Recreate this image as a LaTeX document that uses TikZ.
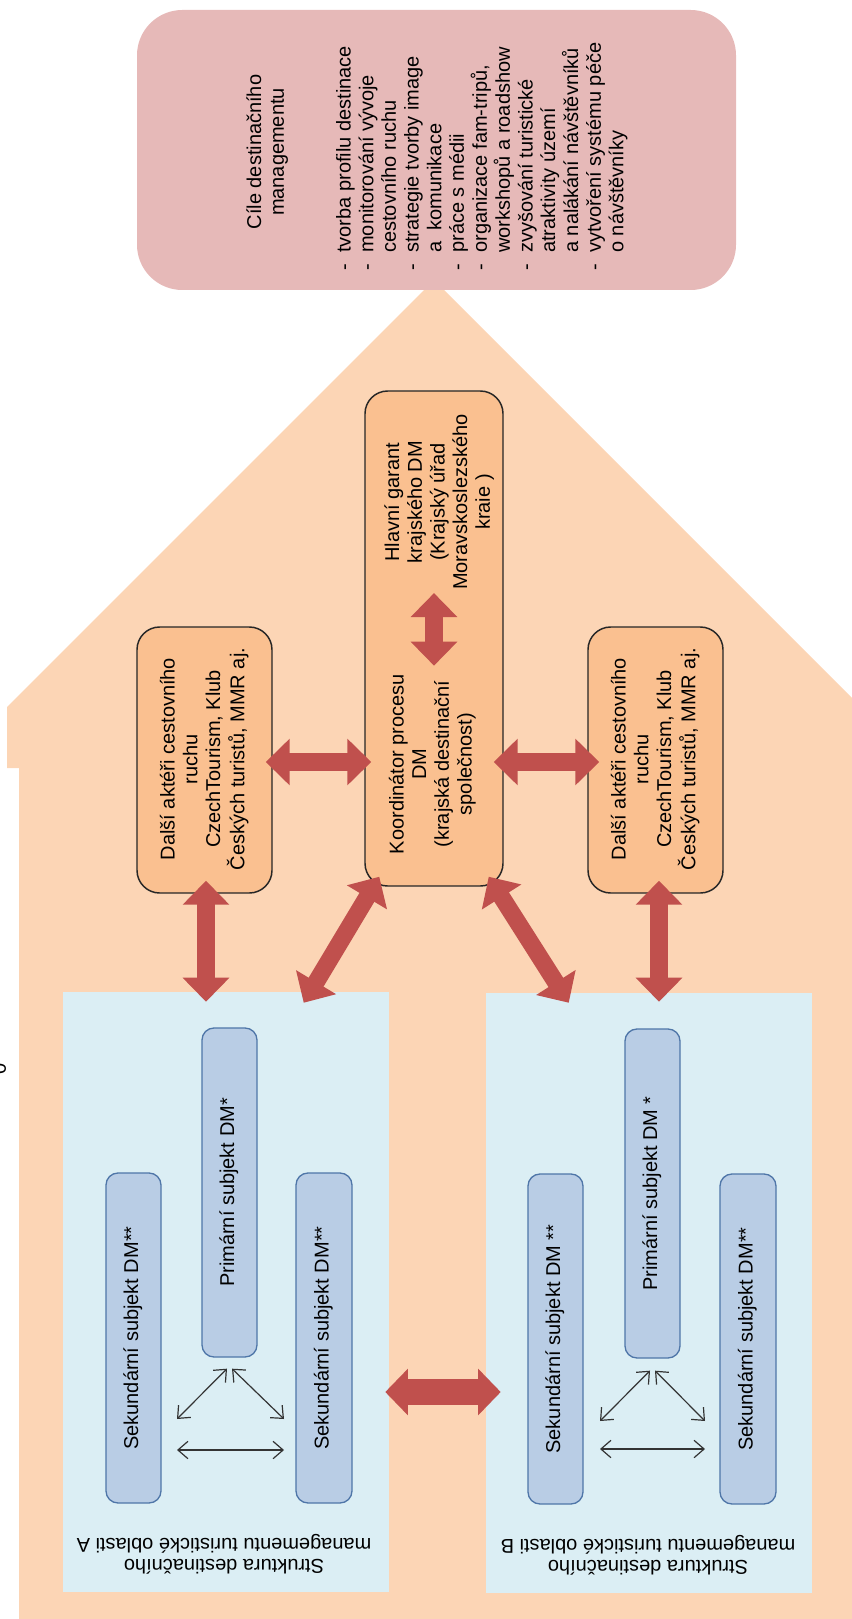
\documentclass[tikz,border=0pt]{standalone}
\usepackage{fontspec}
\usepackage{graphicx}
\setmainfont{Liberation Sans}
\usetikzlibrary{arrows.meta,fit,calc}
\definecolor{peach}{HTML}{FCD5B5}
\definecolor{boxorange}{HTML}{FAC090}
\definecolor{pinkbox}{HTML}{E6B9B8}
\definecolor{lightaqua}{HTML}{DBEEF4}
\definecolor{innerblue}{HTML}{B9CDE5}
\definecolor{innerborder}{HTML}{4F76A8}
\definecolor{arrowred}{HTML}{C0504D}
\newcommand{\dashitem}{\makebox[13.5pt][l]{-}}
\newcommand{\contitem}{\hspace*{13.5pt}}
\newcommand{\vtext}[1]{\rotatebox{90}{\begin{tabular}{@{}c@{}}#1\end{tabular}}}
\begin{document}
\begin{tikzpicture}[x=0.75pt,y=-0.75pt,
  every node/.style={font=\fontsize{15pt}{17pt}\selectfont, inner sep=0pt, text=black},
  orangebox/.style={draw=black!85, line width=1.1pt, fill=boxorange, rounded corners=17pt},
  aquabox/.style={fill=lightaqua},
  innerbox/.style={draw=innerborder, line width=1pt, fill=innerblue, rounded corners=9pt},
  fat/.style={draw=arrowred, line width=13pt, {Triangle[length=18pt,width=34pt]}-{Triangle[length=18pt,width=34pt]}},
  fatter/.style={draw=arrowred, line width=20pt, {Triangle[length=17pt,width=34pt]}-{Triangle[length=17pt,width=34pt]}},
  thin/.style={draw=black!80, line width=0.9pt, {Straight Barb[length=7.5pt,width=13pt]}-{Straight Barb[length=7.5pt,width=13pt]}}
]
\useasboundingbox (0,0) rectangle (852,1619);

% house-shaped background
\fill[peach] (434,280) -- (852,698) -- (852,1619) -- (19,1619) -- (19,768) -- (7,768) -- (7,707) -- cycle;

% goals box
\node[fit={(137,10) (736,290)}, fill=pinkbox, rounded corners=34pt] (goals) {};
\node (goalstitle) at (268,152) {\vtext{Cíle destinačního\\managementu}};
\node[anchor=south] (goalslist) at (482.5,271) {\rotatebox{90}{\begin{tabular}{@{}l@{}}
\dashitem tvorba profilu destinace\\
\dashitem monitorování vývoje\\
\contitem cestovního ruchu\\
\dashitem strategie tvorby image\\
\contitem a\ \ komunikace\\
\dashitem práce s médii\\
\dashitem organizace fam-tripů,\\
\contitem workshopů a roadshow\\
\dashitem zvyšování turistické\\
\contitem atraktivity území\\
\contitem a nalákání návštěvníků\\
\dashitem vytvoření systému péče\\
\contitem o návštěvníky
\end{tabular}}};

% orange boxes
\node[orangebox, fit={(137,627) (272,893)}] (dalsiL) {};
\node (dalsiLtext) at (205,759) {\vtext{Další aktéři cestovního\\ruchu\\CzechTourism, Klub\\Českých turistů, MMR aj.}};
\node[orangebox, fit={(588,627) (723,893)}] (dalsiR) {};
\node (dalsiRtext) at (656,759) {\vtext{Další aktéři cestovního\\ruchu\\CzechTourism, Klub\\Českých turistů, MMR aj.}};
\node[orangebox, fit={(365,391) (503,886)}] (cbox) {};
\node (hlavni) at (440,502) {\vtext{Hlavní garant\\krajského DM\\(Krajský úřad\\Moravskoslezského\\kraie )}};
\node (koord) at (433,764) {\vtext{Koordinátor procesu\\DM\\(krajská destinační\\společnost)}};

% aqua areas
\node[aquabox, fit={(63,992) (389,1592)}] (blueA) {};
\node[aquabox, fit={(486,993) (812,1593)}] (blueB) {};

% inner subject boxes A
\node[innerbox, fit={(106,1173) (161,1503)}] (secA1) {};
\node at (secA1.center) (secA1text) {\vtext{Sekundární subjekt DM**}};
\node[innerbox, fit={(202,1028) (257,1357)}] (primA) {};
\node at (primA.center) (primAtext) {\vtext{Primární subjekt DM*}};
\node[innerbox, fit={(296,1173) (352,1503)}] (secA2) {};
\node at (secA2.center) (secA2text) {\vtext{Sekundární subjekt DM**}};
% inner subject boxes B
\node[innerbox, fit={(528,1174) (583,1504)}] (secB1) {};
\node at (secB1.center) (secB1text) {\vtext{Sekundární subjekt DM **}};
\node[innerbox, fit={(625,1029) (680,1358)}] (primB) {};
\node at (primB.center) (primBtext) {\vtext{Primární subjekt DM *}};
\node[innerbox, fit={(720,1174) (776,1504)}] (secB2) {};
\node at (secB2.center) (secB2text) {\vtext{Sekundární subjekt DM**}};

% labels of areas
\node (labA) at (224,1553) {\rotatebox{180}{\fontsize{15pt}{15.5pt}\selectfont\begin{tabular}{@{}c@{}}Struktura destinačního\\managementu turistické oblasti A\end{tabular}}};
\node (labB) at (648,1554) {\rotatebox{180}{\fontsize{15pt}{15.5pt}\selectfont\begin{tabular}{@{}c@{}}Struktura destinačního\\managementu turistické oblasti B\end{tabular}}};

% stray character at left edge
\node (stray) at (-1,1069) {\rotatebox{90}{0}};

% fat connectors
\draw[fat] ($(dalsiL.south)+(1.5,-13)$) -- ($(dalsiL.south |- blueA.north)+(1.5,10)$);
\draw[fat] ($(dalsiR.south)+(3.5,-13)$) -- ($(dalsiR.south |- blueB.north)+(3.5,9)$);
\draw[fat] ($(cbox.south west)+(15,-10)$) -- ($(blueA.north west)+(241,11)$);
\draw[fat] ($(cbox.south east)+(-15,-10)$) -- ($(blueB.north west)+(83,10)$);
\draw[fat] ($(dalsiL.east)+(-7,2)$) -- ($(dalsiL.east -| cbox.west)+(7,2)$);
\draw[fat] ($(cbox.east |- dalsiR.west)+(-10,2)$) -- ($(dalsiR.west)+(12,2)$);
\draw[fat] ($(hlavni.south -| cbox.north)+(0,3)$) -- ($(koord.north -| cbox.north)+(0,-8)$);
\draw[fatter] ($(blueA.east)+(-4,100)$) -- ($(blueB.west)+(15,99)$);

% thin connectors inside areas
\coordinate (aL) at (177,1419);
\coordinate (aR) at (284,1419);
\coordinate (aL2) at (177,1450);
\coordinate (aR2) at (284,1450);
\coordinate (bL) at (600,1421);
\coordinate (bR) at (705,1421);
\coordinate (bL2) at (600,1449);
\coordinate (bR2) at (705,1449);
\draw[thin] ($(primA.south)+(-2.5,11)$) -- (aL);
\draw[thin] ($(primA.south)+(2.5,11)$) -- (aR);
\draw[thin] (aL2) -- (aR2);
\draw[thin] ($(primB.south)+(-2.5,12)$) -- (bL);
\draw[thin] ($(primB.south)+(2.5,12)$) -- (bR);
\draw[thin] (bL2) -- (bR2);
\end{tikzpicture}
\end{document}
